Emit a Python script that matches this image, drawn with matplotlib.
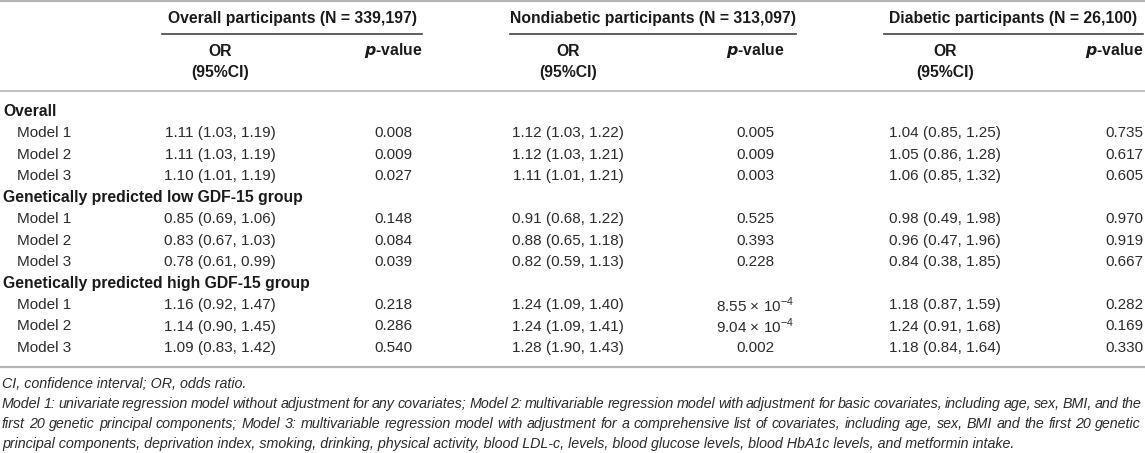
import matplotlib
matplotlib.use('Agg')
import matplotlib.pyplot as plt

plt.rcParams['font.family'] = ['Liberation Sans', 'DejaVu Sans']
plt.rcParams['mathtext.fontset'] = 'custom'
plt.rcParams['mathtext.rm'] = 'Liberation Sans'

# table content
group_titles = ['Overall participants (N = 339,197)',
                'Nondiabetic participants (N = 313,097)',
                'Diabetic participants (N = 26,100)']
sections = ['Overall', 'Genetically predicted low GDF-15 group',
            'Genetically predicted high GDF-15 group']
models = ['Model 1', 'Model 2', 'Model 3']

overall_or = [(1.11, 1.03, 1.19), (1.11, 1.03, 1.19), (1.10, 1.01, 1.19),
              (0.85, 0.69, 1.06), (0.83, 0.67, 1.03), (0.78, 0.61, 0.99),
              (1.16, 0.92, 1.47), (1.14, 0.90, 1.45), (1.09, 0.83, 1.42)]
overall_p = [0.008, 0.009, 0.027, 0.148, 0.084, 0.039, 0.218, 0.286, 0.540]

nondiab_or = [(1.12, 1.03, 1.22), (1.12, 1.03, 1.21), (1.11, 1.01, 1.21),
              (0.91, 0.68, 1.22), (0.88, 0.65, 1.18), (0.82, 0.59, 1.13),
              (1.24, 1.09, 1.40), (1.24, 1.09, 1.41), (1.28, 1.90, 1.43)]
nondiab_p = [0.005, 0.009, 0.003, 0.525, 0.393, 0.228, 0.000855, 0.000904, 0.002]

diab_or = [(1.04, 0.85, 1.25), (1.05, 0.86, 1.28), (1.06, 0.85, 1.32),
           (0.98, 0.49, 1.98), (0.96, 0.47, 1.96), (0.84, 0.38, 1.85),
           (1.18, 0.87, 1.59), (1.24, 0.91, 1.68), (1.18, 0.84, 1.64)]
diab_p = [0.735, 0.617, 0.605, 0.970, 0.919, 0.667, 0.282, 0.169, 0.330]

footnotes = [
    'CI, confidence interval; OR, odds ratio.',
    'Model 1: univariate regression model without adjustment for any covariates; Model 2: multivariable '
    'regression model with adjustment for basic covariates, including age, sex, BMI, and the',
    'first 20 genetic principal components; Model 3: multivariable regression model with adjustment for a '
    'comprehensive list of covariates, including age, sex, BMI and the first 20 genetic',
    'principal components, deprivation index, smoking, drinking, physical activity, blood LDL-c, levels, '
    'blood glucose levels, blood HbA1c levels, and metformin intake.',
]
justified = [False, True, True, False]


def fmt_or(t):
    return '%.2f (%.2f, %.2f)' % t


def fmt_p(p):
    if p < 0.001:
        m = p * 1e4
        return r'%.2f × 10$^{\mathregular{−4}}$' % m
    return '%.3f' % p


W, H = 1145, 453
fig = plt.figure(figsize=(W / 100, H / 100), dpi=100)
ax = fig.add_axes([0, 0, 1, 1])
ax.set_xlim(0, W)
ax.set_ylim(H, 0)
ax.axis('off')

txt = '#2b2b2b'
hdr = '#1a1a1a'
fs = 11
fsb = 11.3
ffs = 10.3
# rules
ax.plot([0, W], [0.8, 0.8], color='#b5b5b5', lw=1.6)
ax.plot([0, W], [91, 91], color='#b5b5b5', lw=1.2)
ax.plot([0, W], [367, 367], color='#b5b5b5', lw=1.6)

spans = [(162, 422), (510, 796), (884, 1143)]
for (a, b), title in zip(spans, group_titles):
    ax.plot([a, b], [33.5, 33.5], color='#444444', lw=1.2)
    ax.text((a + b) / 2, 18, title, ha='center', va='center', fontsize=fsb,
            fontweight='bold', color=hdr)

or_x = [220, 568, 945]
p_x = [(393, 'center'), (755, 'center'), (1143, 'right')]
for x in or_x:
    ax.text(x, 51, 'OR', ha='center', va='center', fontsize=fsb, fontweight='bold', color=hdr)
    ax.text(x, 73, '(95%CI)', ha='center', va='center', fontsize=fsb, fontweight='bold', color=hdr)
for x, ha in p_x:
    ax.text(x, 51, r'$\mathbfit{p}$-value', ha=ha, va='center', fontsize=fsb,
            fontweight='bold', color=hdr)

columns = [(overall_or, overall_p), (nondiab_or, nondiab_p), (diab_or, diab_p)]
row_h = 21.45
y0 = 112
r = 0
for s, sec in enumerate(sections):
    ax.text(3, y0 + r * row_h, sec, ha='left', va='center', fontsize=fsb,
            fontweight='bold', color=hdr)
    r += 1
    for m, mod in enumerate(models):
        k = s * 3 + m
        y = y0 + r * row_h
        ax.text(17, y, mod, ha='left', va='center', fontsize=fs, color=txt)
        for (ors, ps), ox, (px, pha) in zip(columns, or_x, p_x):
            ax.text(ox, y, fmt_or(ors[k]), ha='center', va='center', fontsize=fs, color=txt)
            ax.text(px, y, fmt_p(ps[k]), ha=pha, va='center', fontsize=fs, color=txt)
        r += 1

# footnotes, justified like the journal layout
fig.canvas.draw()
renderer = fig.canvas.get_renderer()
foot_y = [384, 404, 424, 444]
left, right = 2, 1141
for line, y, just in zip(footnotes, foot_y, justified):
    if not just:
        ax.text(left, y, line, ha='left', va='center', fontsize=ffs,
                style='italic', color=txt)
        continue
    words = line.split(' ')
    widths = []
    for w in words:
        t = ax.text(0, y, w, fontsize=ffs, style='italic')
        widths.append(t.get_window_extent(renderer).width)
        t.remove()
    gap = (right - left - sum(widths)) / (len(words) - 1)
    x = left
    for w, wd in zip(words, widths):
        ax.text(x, y, w, ha='left', va='center', fontsize=ffs, style='italic', color=txt)
        x += wd + gap

fig.savefig('out.png', dpi=100)
